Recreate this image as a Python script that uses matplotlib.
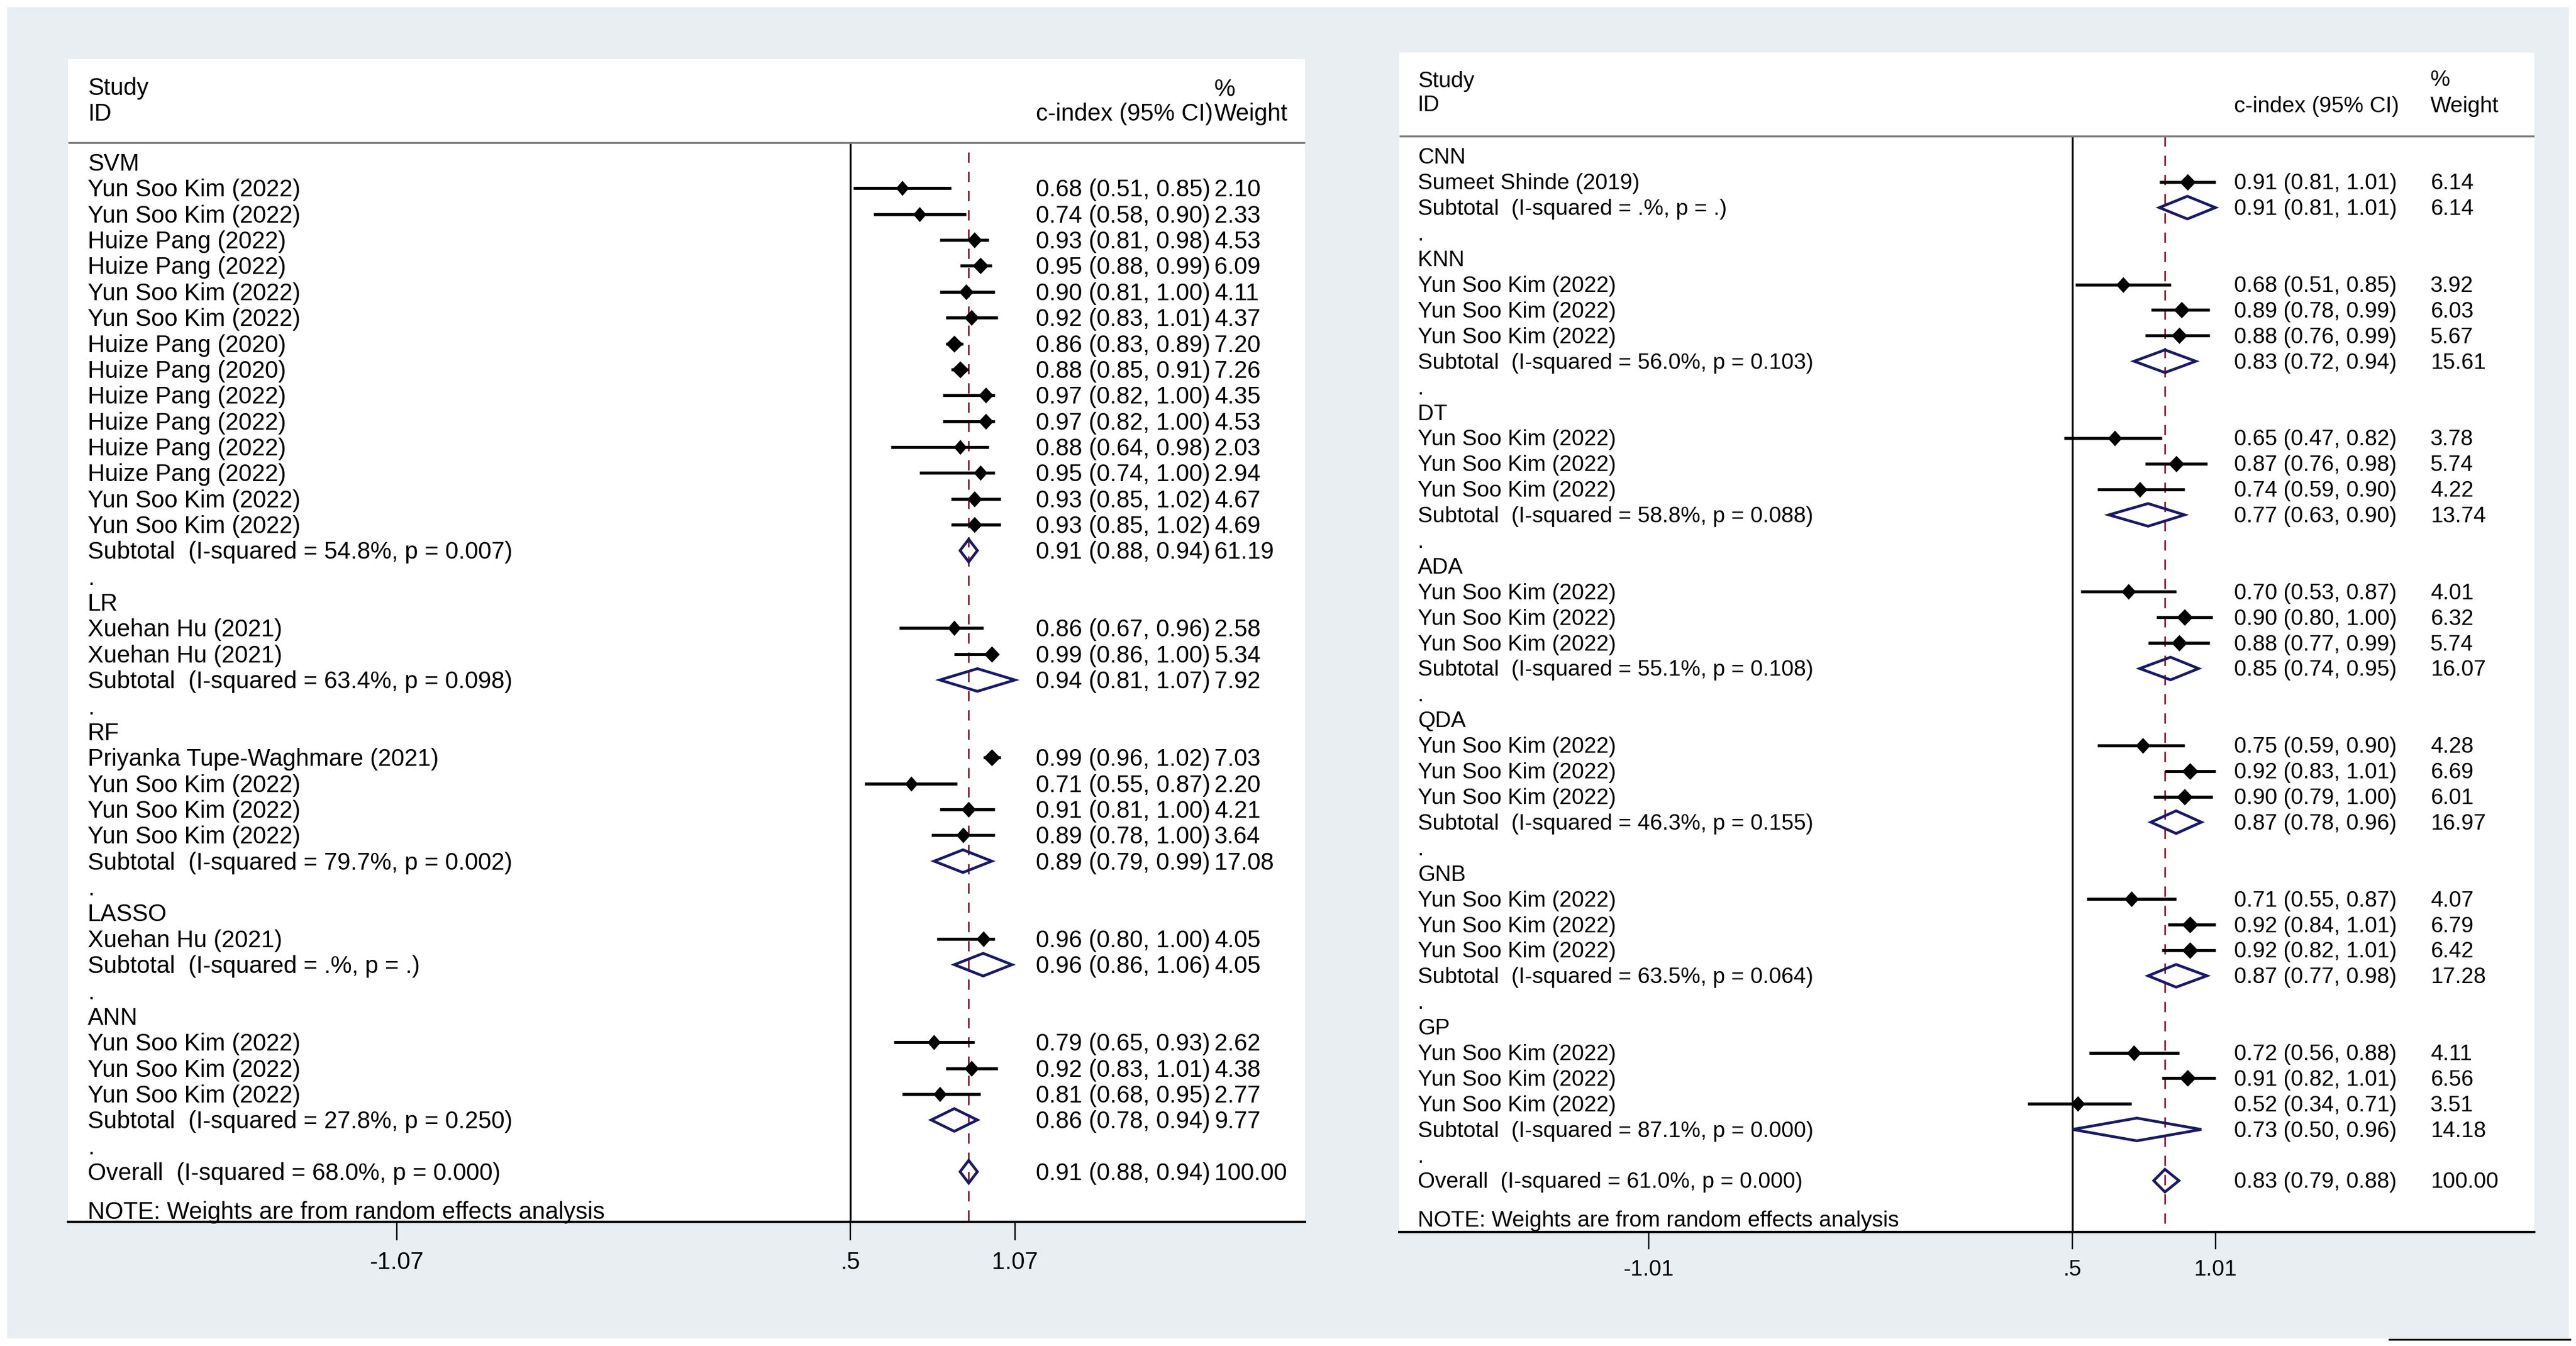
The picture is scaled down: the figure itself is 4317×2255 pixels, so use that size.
import matplotlib
matplotlib.use("Agg")
import matplotlib.pyplot as plt
from matplotlib.patches import Polygon, Rectangle
from matplotlib.lines import Line2D

plt.rcParams['font.family'] = ['Liberation Sans', 'DejaVu Sans']

W, H = 4317, 2255

# ------------------------------------------------------------------ data: left panel
L_groups = ["SVM", "LR", "RF", "LASSO", "ANN"]
L_names = [
    ["Yun Soo Kim (2022)", "Yun Soo Kim (2022)", "Huize Pang (2022)", "Huize Pang (2022)",
     "Yun Soo Kim (2022)", "Yun Soo Kim (2022)", "Huize Pang (2020)", "Huize Pang (2020)",
     "Huize Pang (2022)", "Huize Pang (2022)", "Huize Pang (2022)", "Huize Pang (2022)",
     "Yun Soo Kim (2022)", "Yun Soo Kim (2022)"],
    ["Xuehan Hu (2021)", "Xuehan Hu (2021)"],
    ["Priyanka Tupe-Waghmare (2021)", "Yun Soo Kim (2022)", "Yun Soo Kim (2022)", "Yun Soo Kim (2022)"],
    ["Xuehan Hu (2021)"],
    ["Yun Soo Kim (2022)", "Yun Soo Kim (2022)", "Yun Soo Kim (2022)"],
]
L_est = [[0.68, 0.74, 0.93, 0.95, 0.90, 0.92, 0.86, 0.88, 0.97, 0.97, 0.88, 0.95, 0.93, 0.93],
         [0.86, 0.99], [0.99, 0.71, 0.91, 0.89], [0.96], [0.79, 0.92, 0.81]]
L_lo = [[0.51, 0.58, 0.81, 0.88, 0.81, 0.83, 0.83, 0.85, 0.82, 0.82, 0.64, 0.74, 0.85, 0.85],
        [0.67, 0.86], [0.96, 0.55, 0.81, 0.78], [0.80], [0.65, 0.83, 0.68]]
L_hi = [[0.85, 0.90, 0.98, 0.99, 1.00, 1.01, 0.89, 0.91, 1.00, 1.00, 0.98, 1.00, 1.02, 1.02],
        [0.96, 1.00], [1.02, 0.87, 1.00, 1.00], [1.00], [0.93, 1.01, 0.95]]
L_wt = [[2.10, 2.33, 4.53, 6.09, 4.11, 4.37, 7.20, 7.26, 4.35, 4.53, 2.03, 2.94, 4.67, 4.69],
        [2.58, 5.34], [7.03, 2.20, 4.21, 3.64], [4.05], [2.62, 4.38, 2.77]]
L_sub_est = [0.91, 0.94, 0.89, 0.96, 0.86]
L_sub_lo = [0.88, 0.81, 0.79, 0.86, 0.78]
L_sub_hi = [0.94, 1.07, 0.99, 1.06, 0.94]
L_sub_wt = [61.19, 7.92, 17.08, 4.05, 9.77]
L_sub_i2 = ["54.8%", "63.4%", "79.7%", ".%", "27.8%"]
L_sub_p = ["0.007", "0.098", "0.002", ".", "0.250"]
L_overall = [0.91, 0.88, 0.94, 100.00]
L_overall_i2, L_overall_p = "68.0%", "0.000"
L_ticks = [-1.07, 0.5, 1.07]
L_ticklabels = ["-1.07", ".5", "1.07"]

# ------------------------------------------------------------------ data: right panel
R_groups = ["CNN", "KNN", "DT", "ADA", "QDA", "GNB", "GP"]
R_names = [["Sumeet Shinde (2019)"]] + [["Yun Soo Kim (2022)"] * 3 for _ in range(6)]
R_est = [[0.91], [0.68, 0.89, 0.88], [0.65, 0.87, 0.74], [0.70, 0.90, 0.88],
         [0.75, 0.92, 0.90], [0.71, 0.92, 0.92], [0.72, 0.91, 0.52]]
R_lo = [[0.81], [0.51, 0.78, 0.76], [0.47, 0.76, 0.59], [0.53, 0.80, 0.77],
        [0.59, 0.83, 0.79], [0.55, 0.84, 0.82], [0.56, 0.82, 0.34]]
R_hi = [[1.01], [0.85, 0.99, 0.99], [0.82, 0.98, 0.90], [0.87, 1.00, 0.99],
        [0.90, 1.01, 1.00], [0.87, 1.01, 1.01], [0.88, 1.01, 0.71]]
R_wt = [[6.14], [3.92, 6.03, 5.67], [3.78, 5.74, 4.22], [4.01, 6.32, 5.74],
        [4.28, 6.69, 6.01], [4.07, 6.79, 6.42], [4.11, 6.56, 3.51]]
R_sub_est = [0.91, 0.83, 0.77, 0.85, 0.87, 0.87, 0.73]
R_sub_lo = [0.81, 0.72, 0.63, 0.74, 0.78, 0.77, 0.50]
R_sub_hi = [1.01, 0.94, 0.90, 0.95, 0.96, 0.98, 0.96]
R_sub_wt = [6.14, 15.61, 13.74, 16.07, 16.97, 17.28, 14.18]
R_sub_i2 = [".%", "56.0%", "58.8%", "55.1%", "46.3%", "63.5%", "87.1%"]
R_sub_p = [".", "0.103", "0.088", "0.108", "0.155", "0.064", "0.000"]
R_overall = [0.83, 0.79, 0.88, 100.00]
R_overall_i2, R_overall_p = "61.0%", "0.000"
R_ticks = [-1.01, 0.5, 1.01]
R_ticklabels = ["-1.01", ".5", "1.01"]

NAVY = "#191966"
DRED = "#931c30"
GREYBG = "#e8eef1"

fig = plt.figure(figsize=(W / 100, H / 100), dpi=100)
fig.patch.set_facecolor("white")

# grey background of the composite
fig.add_artist(Rectangle((12 / W, 1 - 2242 / H), (4305 - 12) / W, (2242 - 12) / H,
                         transform=fig.transFigure, facecolor=GREYBG, edgecolor="none", zorder=0))
fig.add_artist(Line2D([4004 / W, 4307 / W], [1 - 2244 / H, 1 - 2244 / H],
                      transform=fig.transFigure, color="black", lw=2.2))


def draw_panel(geo, groups, names, est, lo, hi, wt, s_est, s_lo, s_hi, s_wt, s_i2, s_p,
               overall, o_i2, o_p, ticks, ticklabels):
    x0, x1, y0, y1 = geo["x0"], geo["x1"], geo["y0"], geo["y1"]
    ax = fig.add_axes([x0 / W, 1 - y1 / H, (x1 - x0) / W, (y1 - y0) / H])
    ax.set_zorder(2)
    ax.set_facecolor("white")

    def v(px):
        return 0.5 + (px - geo["null"]) / geo["ppu"]

    ax.set_xlim(v(x0), v(x1))
    ax.set_ylim(y1, y0)
    fs = geo["fs"]
    toff = 3  # small downward shift of text so glyph centres sit on the row

    def rowy(r):
        return geo["row0"] + r * geo["rowh"]

    def txt(x, y, s):
        ax.text(x, y + toff, s, fontsize=fs, va="center", ha="left")

    lx, ex, wx = v(geo["lab"]), v(geo["est"]), v(geo["wt"])

    # header
    txt(lx, geo["study_y"], "Study")
    txt(lx, geo["id_y"], "ID")
    txt(ex, geo["col_y"], "c-index (95% CI)")
    txt(wx, geo["pct_y"], "%")
    txt(wx, geo["col_y"], "Weight")
    ax.plot([v(x0), v(x1)], [geo["hline"], geo["hline"]], color="#7d7d7d", lw=2.4,
            clip_on=False, zorder=3, solid_capstyle="butt")

    hh = 19  # half height of pooled diamonds (px)
    r = 0
    for gi, g in enumerate(groups):
        txt(lx, rowy(r), g)
        r += 1
        for j, nm in enumerate(names[gi]):
            y = rowy(r)
            e, l, h, w = est[gi][j], lo[gi][j], hi[gi][j], wt[gi][j]
            txt(lx, y, nm)
            ax.plot([l, h], [y, y], color="black", lw=3.7, solid_capstyle="butt", zorder=4)
            wpx = 19 + 1.3 * w
            hpx = 24 + 0.6 * w
            a = wpx / hpx
            ax.plot([e], [y], marker=[(-a, 0), (0, 1), (a, 0), (0, -1), (-a, 0)],
                    ms=hpx * 0.72, color="black", mew=0, zorder=5)
            txt(ex, y, f"{e:.2f} ({l:.2f}, {h:.2f})")
            txt(wx, y, f"{w:.2f}")
            r += 1
        y = rowy(r)
        txt(lx, y, f"Subtotal  (I-squared = {s_i2[gi]}, p = {s_p[gi]})")
        ax.add_patch(Polygon([(s_lo[gi], y), (s_est[gi], y - hh), (s_hi[gi], y), (s_est[gi], y + hh)],
                             closed=True, fill=False, edgecolor=NAVY, lw=3.3, zorder=5))
        txt(ex, y, f"{s_est[gi]:.2f} ({s_lo[gi]:.2f}, {s_hi[gi]:.2f})")
        txt(wx, y, f"{s_wt[gi]:.2f}")
        r += 1
        txt(lx, rowy(r), ".")
        r += 1

    y = rowy(r)
    oe, ol, oh, ow = overall
    txt(lx, y, f"Overall  (I-squared = {o_i2}, p = {o_p})")
    ax.add_patch(Polygon([(ol, y), (oe, y - hh), (oh, y), (oe, y + hh)],
                         closed=True, fill=False, edgecolor=NAVY, lw=3.3, zorder=5))
    txt(ex, y, f"{oe:.2f} ({ol:.2f}, {oh:.2f})")
    txt(wx, y, f"{ow:.2f}")
    txt(lx, rowy(r + 1.5), "NOTE: Weights are from random effects analysis")

    # reference lines
    ax.plot([0.5, 0.5], [geo["hline"], y1], color="black", lw=2.3, zorder=2,
            solid_capstyle="butt")
    ax.plot([oe, oe], [geo["dash_top"], y1], color=DRED, lw=2.0, ls=(0, (6.2, 5.4)), zorder=1)

    # axis
    for s in ["top", "right", "left"]:
        ax.spines[s].set_visible(False)
    ax.spines["bottom"].set_linewidth(2.8)
    ax.set_yticks([])
    ax.set_xticks(ticks)
    ax.set_xticklabels(ticklabels)
    ax.tick_params(axis="x", length=geo["ticklen"] * 0.72, width=1.7, pad=geo["pad"],
                   labelsize=fs, direction="out")
    return ax


L_geo = dict(x0=114, x1=2187, y0=99, y1=2047, null=1425, ppu=484, row0=272, rowh=43.36,
             lab=147, est=1736, wt=2035, study_y=145, id_y=188, pct_y=147, col_y=188,
             hline=239, dash_top=255, fs=28.7, ticklen=31, pad=13)
R_geo = dict(x0=2345, x1=4247, y0=88, y1=2064, null=3473, ppu=470, row0=262, rowh=42.9,
             lab=2376, est=3744, wt=4073, study_y=133, id_y=173, pct_y=132, col_y=176,
             hline=228, dash_top=228, fs=26.7, ticklen=29, pad=12)

draw_panel(L_geo, L_groups, L_names, L_est, L_lo, L_hi, L_wt, L_sub_est, L_sub_lo, L_sub_hi,
           L_sub_wt, L_sub_i2, L_sub_p, L_overall, L_overall_i2, L_overall_p, L_ticks, L_ticklabels)
draw_panel(R_geo, R_groups, R_names, R_est, R_lo, R_hi, R_wt, R_sub_est, R_sub_lo, R_sub_hi,
           R_sub_wt, R_sub_i2, R_sub_p, R_overall, R_overall_i2, R_overall_p, R_ticks, R_ticklabels)

fig.savefig("out.png", dpi=100, facecolor=fig.get_facecolor())
